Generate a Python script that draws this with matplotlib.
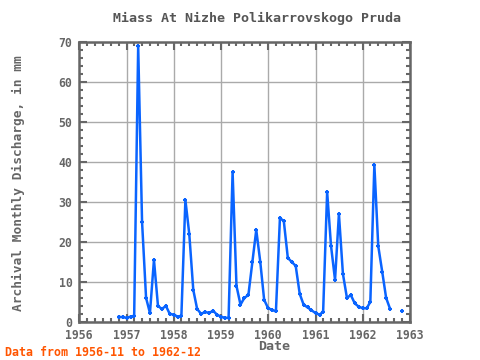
"""
Miass at Nizhe Polikarrovskogo Pruda - archival monthly discharge.
"""

import matplotlib

matplotlib.use("Agg")
import matplotlib.dates as mdates
import matplotlib.pyplot as plt
import numpy as np
import pandas as pd

nan = np.nan

# monthly values, 1956-11 .. 1962-12 (mm)
start = "1956-11-01"
discharge = [
    1.2, 1.2,  # 1956
    1.0, 1.3, 1.5, 69.0, 25.0, 6.0, 2.2, 15.5, 4.0, 3.2, 4.0, 2.0,  # 1957
    1.8, 1.3, 1.5, 30.5, 22.0, 8.0, 3.2, 2.0, 2.5, 2.2, 2.8, 1.8,  # 1958
    1.3, 1.0, 1.0, 37.5, 9.0, 4.3, 6.0, 6.7, 15.0, 23.0, 15.0, 5.5,  # 1959
    3.4, 3.0, 2.6, 26.0, 25.2, 16.0, 15.0, 14.0, 7.0, 4.3, 3.6, 2.9,  # 1960
    2.2, 1.8, 2.5, 32.5, 19.0, 10.5, 27.0, 12.0, 6.0, 6.7, 4.6, 3.8,  # 1961
    3.4, 3.4, 5.0, 39.3, 19.0, 12.5, 6.0, 3.2, nan, nan, 2.6, nan,  # 1962
]
dates = pd.date_range(start, periods=len(discharge), freq="MS")

title = "Miass At Nizhe Polikarrovskogo Pruda"
note = "Data from 1956-11 to 1962-12"

GRAY = "#666666"
FONT = "DejaVu Sans Mono"

fig = plt.figure(figsize=(4.8, 3.6), dpi=100)
ax = fig.add_axes([0.165, 0.106, 0.689, 0.777])

ax.plot(
    dates,
    discharge,
    color="#0a64ff",
    linewidth=1.8,
    marker="+",
    markersize=3,
    markeredgewidth=1.5,
)

ax.set_xlim(pd.Timestamp("1956-01-01"), pd.Timestamp("1963-01-01"))
ax.set_ylim(0, 70)

ax.xaxis.set_major_locator(mdates.YearLocator())
ax.xaxis.set_major_formatter(mdates.DateFormatter("%Y"))
ax.xaxis.set_minor_locator(mdates.MonthLocator(bymonth=[3, 5, 7, 9, 11]))
ax.set_yticks(range(0, 71, 10))
ax.set_yticks(range(0, 71, 2), minor=True)

ax.grid(True, which="major", color="#aaaaaa", linewidth=1)
ax.set_axisbelow(True)
for s in ax.spines.values():
    s.set_color(GRAY)
    s.set_linewidth(1.8)

ax.tick_params(
    which="both", direction="in", top=True, right=True, color=GRAY, width=1.5
)
ax.tick_params(which="major", length=6, pad=5)
ax.tick_params(which="minor", length=3)
for lab in ax.get_xticklabels() + ax.get_yticklabels():
    lab.set_fontfamily(FONT)
    lab.set_fontsize(8.3)
    lab.set_fontweight("bold")
    lab.set_color(GRAY)

fig.text(
    257 / 480, 1 - 18 / 360, title, ha="center", va="center",
    fontfamily=FONT, fontsize=9.6, fontweight="bold", color="#555555",
)
fig.text(
    274 / 480, 1 - 347 / 360, "Date", ha="center", va="center",
    fontfamily=FONT, fontsize=9.6, fontweight="bold", color=GRAY,
)
fig.text(
    18 / 480, 1 - 183 / 360, "Archival Monthly Discharge, in mm",
    ha="center", va="center", rotation=90,
    fontfamily=FONT, fontsize=9.3, fontweight="bold", color=GRAY,
)
fig.text(
    5 / 480, 1 - 352 / 360, note, ha="left", va="center",
    fontfamily=FONT, fontsize=8.4, fontweight="bold", color="#ff5500",
)

plt.savefig("out.png", dpi=100)
plt.close()
